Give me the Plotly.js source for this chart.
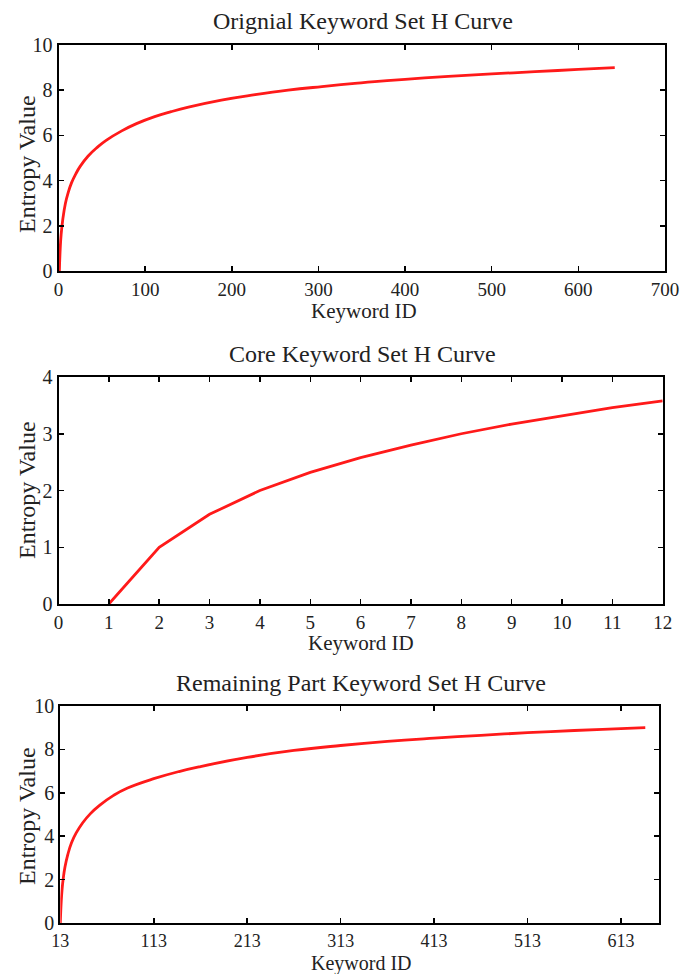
<!DOCTYPE html>
<html>
<head>
<meta charset="utf-8">
<script src="https://cdn.plot.ly/plotly-3.0.1.min.js"></script>
<style>html,body{margin:0;padding:0;background:#fff;}#chart{width:697px;height:974px;}</style>
</head>
<body>
<div id="chart"></div>
<script>
// Values
const titles = ["Orignial Keyword Set H Curve", "Core Keyword Set H Curve", "Remaining Part Keyword Set H Curve"];
const xTitle = "Keyword ID";
const yTitle = "Entropy Value";

const origX = [1, 2, 3, 5, 8, 11, 15, 20, 25, 34, 45, 55, 73, 90, 111, 130, 150, 188, 227, 265, 304, 342, 365, 400, 450, 500, 550, 600, 642];
const origY = [0, 1.0, 1.6, 2.3, 3.0, 3.45, 3.9, 4.3, 4.63, 5.08, 5.48, 5.78, 6.2, 6.52, 6.83, 7.05, 7.25, 7.56, 7.8, 8.0, 8.16, 8.3, 8.38, 8.48, 8.61, 8.72, 8.82, 8.92, 9.0];

const coreX = [1, 2, 3, 4, 5, 6, 7, 8, 9, 10, 11, 12];
const coreY = [0, 1.0, 1.58, 2.0, 2.32, 2.58, 2.8, 3.0, 3.17, 3.32, 3.46, 3.58];

const remX = [13, 14, 15, 16, 18, 21, 25, 30, 37, 45, 55, 70, 85, 113, 140, 163, 213, 263, 313, 363, 413, 463, 513, 563, 613, 639];
const remY = [0, 1.0, 1.6, 2.0, 2.58, 3.15, 3.7, 4.15, 4.62, 5.03, 5.42, 5.88, 6.22, 6.65, 6.98, 7.21, 7.63, 7.95, 8.18, 8.37, 8.52, 8.65, 8.77, 8.87, 8.96, 9.0];

const origXTicks = [0, 100, 200, 300, 400, 500, 600, 700];
const coreXTicks = [0, 1, 2, 3, 4, 5, 6, 7, 8, 9, 10, 11, 12];
const remXTicks = [13, 113, 213, 313, 413, 513, 613];
const tenYTicks = [0, 2, 4, 6, 8, 10];
const coreYTicks = [0, 1, 2, 3, 4];

const W = 697, H = 974;
const FONT = '"Liberation Serif", "Times New Roman", Times, serif';
const TXT = '#222';
const red = '#ff1a1a';

function px(x) { return x / W; }
function py(y) { return 1 - y / H; }

function xa(dom, range, ticks, anchor, fs) {
  return {
    domain: dom, range: range, tickvals: ticks, ticktext: ticks.map(String),
    showline: true, mirror: 'ticks', linecolor: '#000', linewidth: 2,
    ticks: 'inside', ticklen: 5, tickwidth: 1.5, tickcolor: '#000',
    showgrid: false, zeroline: false, anchor: anchor,
    tickfont: {family: FONT, size: fs || 19, color: TXT},
    automargin: false, fixedrange: true
  };
}
function ya(dom, range, ticks, anchor) {
  return {
    domain: dom, range: range, tickvals: ticks, ticktext: ticks.map(String),
    showline: true, mirror: 'ticks', linecolor: '#000', linewidth: 2,
    ticks: 'inside', ticklen: 5, tickwidth: 1.5, tickcolor: '#000',
    showgrid: false, zeroline: false, anchor: anchor,
    tickfont: {family: FONT, size: 20, color: TXT},
    automargin: false, fixedrange: true
  };
}

const lineStyle = {color: red, width: 2.8, shape: 'spline', smoothing: 1.3};

const data = [
  {x: origX, y: origY, type: 'scatter', mode: 'lines', line: lineStyle, xaxis: 'x', yaxis: 'y', hoverinfo: 'skip'},
  {x: coreX, y: coreY, type: 'scatter', mode: 'lines', line: {color: red, width: 2.8}, xaxis: 'x2', yaxis: 'y2', hoverinfo: 'skip'},
  {x: remX, y: remY, type: 'scatter', mode: 'lines', line: lineStyle, xaxis: 'x3', yaxis: 'y3', hoverinfo: 'skip'}
];

function ann(text, x, y, size, angle) {
  return {text: text, xref: 'paper', yref: 'paper', x: px(x), y: py(y), showarrow: false,
          xanchor: 'center', yanchor: 'middle', textangle: angle || 0, borderpad: 0,
          font: {family: FONT, size: size, color: TXT}};
}

const layout = {
  width: W, height: H,
  margin: {l: 0, r: 0, t: 0, b: 0},
  paper_bgcolor: '#fff', plot_bgcolor: '#fff',
  showlegend: false,
  font: {family: FONT, color: TXT},
  xaxis: xa([px(58.5), px(665)], [0, 700], origXTicks, 'y'),
  yaxis: ya([py(271), py(45)], [0, 10], tenYTicks, 'x'),
  xaxis2: xa([px(58.5), px(662.7)], [0, 12], coreXTicks, 'y2'),
  yaxis2: ya([py(604), py(377)], [0, 4], coreYTicks, 'x2'),
  xaxis3: xa([px(60.3), px(659.3)], [13, 654], remXTicks, 'y3', 18),
  yaxis3: ya([py(923), py(706)], [0, 10], tenYTicks, 'x3'),
  annotations: [
    ann(titles[0], 363, 21, 24),
    ann(titles[1], 362, 354, 24),
    ann(titles[2], 361, 683, 24),
    ann(xTitle, 364, 311, 21),
    ann(xTitle, 361, 643, 21),
    ann(xTitle, 361, 963, 20),
    ann(yTitle, 27, 164, 24, -90),
    ann(yTitle, 27, 490, 24, -90),
    ann(yTitle, 27, 816, 24, -90)
  ]
};

Plotly.newPlot('chart', data, layout, {staticPlot: true, displayModeBar: false});
</script>
</body>
</html>
